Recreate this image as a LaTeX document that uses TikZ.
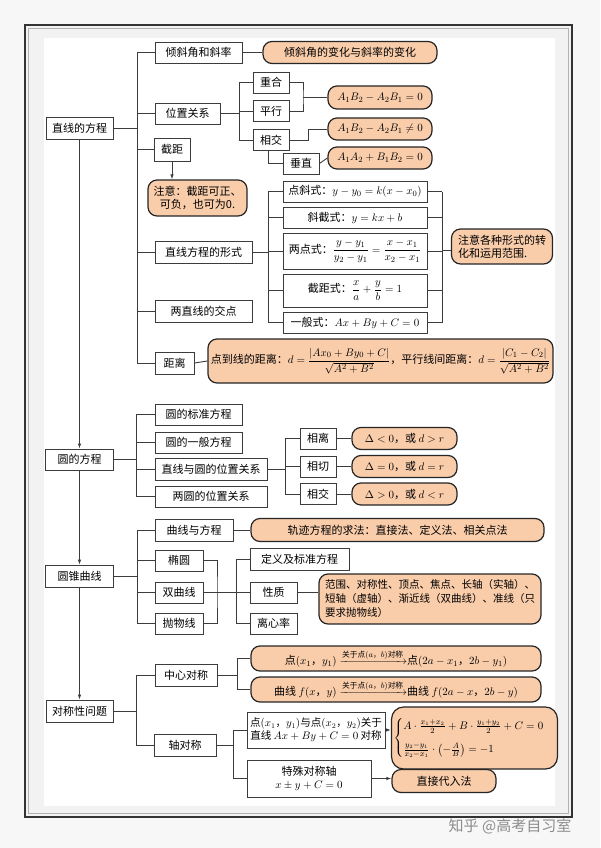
\documentclass[tikz,border=0pt]{standalone}
\usepackage{amsmath}
\usepackage[no-math]{fontspec}
\setmainfont{Noto Sans CJK SC}
\usetikzlibrary{arrows.meta}
\definecolor{peach}{RGB}{249,204,170}
\definecolor{edge}{RGB}{60,60,60}

\begin{document}
\begin{tikzpicture}[x=1pt,y=-1pt,>={Latex[length=5pt,width=3.5pt]},
    font=\fontsize{11}{13}\selectfont,line width=0.9pt]
  \tikzstyle{box}=[rectangle,draw=edge,line width=0.8pt,fill=white,inner sep=1pt,minimum height=21]
  \tikzstyle{note}=[rectangle,rounded corners=9pt,draw=black!85,line width=1.2pt,fill=peach,inner sep=2pt,minimum height=22]
  \tikzstyle{link}=[draw=edge,line width=0.9pt]
  \useasboundingbox (0,0) rectangle (600,848);

  % frame
  \fill[black!3] (0,0) rectangle (600,848);
  \fill[black!5] (25,25) rectangle (572,817);
  \fill[white] (44,38) rectangle (555,806);
  \draw[black!80,line width=2.5pt] (25,25) rectangle (572,817);
  \draw[black!30,line width=1pt] (28.5,28.5) rectangle (568.5,813.5);

  % lines
  \node (line) at (79.5,128) [box,minimum width=67,minimum height=22] {直线的方程};
  \node (tilt) at (198.5,52.5) [box,minimum width=87] {倾斜角和斜率};
  \node (pos) at (187.5,113.5) [box,minimum width=65] {位置关系};
  \node (icpt) at (172,149.5) [box,minimum width=36,minimum height=23] {截距};
  \node (form) at (203.5,252) [box,minimum width=97,minimum height=22] {直线方程的形式};
  \node (cross) at (203.5,311) [box,minimum width=97,minimum height=22] {两直线的交点};
  \node (dist) at (174.5,363) [box,minimum width=39,minimum height=22] {距离};
  \node (icptn) at (197.5,198) [note,minimum width=99,minimum height=36,align=center] {注意：截距可正、\\可负，也可为0.};
  \node (tiltn) at (350,52.5) [note,minimum width=174] {倾斜角的变化与斜率的变化};
  \node (same) at (271,82.5) [box,minimum width=36] {重合};
  \node (para) at (271,111) [box,minimum width=36] {平行};
  \node (meet) at (271,140) [box,minimum width=36] {相交};
  \node (perp) at (301,163.5) [box,minimum width=36] {垂直};
  \node (paran) at (380,97.5) [note,minimum width=104,minimum height=23] {$A_1B_2-A_2B_1=0$};
  \node (meetn) at (380,129) [note,minimum width=104] {$A_1B_2-A_2B_1\neq0$};
  \node (perpn) at (380,158) [note,minimum width=104] {$A_1A_2+B_1B_2=0$};
  \node (fa) at (355,191.5) [box,minimum width=144] {点斜式：$y-y_0=k(x-x_0)$};
  \node (fb) at (355,217.5) [box,minimum width=144] {斜截式：$y=kx+b$};
  \node (fc) at (355,251) [box,minimum width=144,minimum height=36] {两点式：$\dfrac{y-y_1}{y_2-y_1}=\dfrac{x-x_1}{x_2-x_1}$};
  \node (fd) at (355,290.5) [box,minimum width=144,minimum height=33] {截距式：$\dfrac{x}{a}+\dfrac{y}{b}=1$};
  \node (fe) at (355,322.5) [box,minimum width=144] {一般式：$Ax+By+C=0$};
  \node (formn) at (502,246.5) [note,minimum width=101,minimum height=35,align=left] {注意各种形式的转\\化和运用范围.};
  \node (distn) at (380.5,361) [note,minimum width=345,minimum height=44] {点到线的距离：$d=\dfrac{|Ax_0+By_0+C|}{\sqrt{A^2+B^2}}$，平行线间距离：$d=\dfrac{|C_1-C_2|}{\sqrt{A^2+B^2}}$};

  \coordinate (t1) at (137,128);
  \draw [link] (line.east) -- (t1);
  \draw [link] (t1 |- tilt) -- (t1 |- dist);
  \foreach \n in {tilt,pos,icpt,form,cross,dist}
    \draw [link] (t1 |- \n) -- (\n.west);
  \draw [link] (tilt.east) -- (tiltn.west);
  \draw [link,->] (icpt.south) -- (icpt.south |- icptn.north);
  \draw [link] (dist.east) -- (distn.west);

  \coordinate (t2) at (239,113.5);
  \draw [link] (pos.east) -- (t2);
  \draw [link] (t2 |- same) -- (t2 |- meet);
  \foreach \n in {same,para,meet}
    \draw [link] (t2 |- \n) -- (\n.west);
  \coordinate (b1) at (303,97.5);
  \draw [link] (same.east) -| (b1) |- (para.east);
  \draw [link] (b1) -- (paran.west);
  \draw [link] (meet.east) -- ++(19,0) |- (meetn.west);
  \draw [link] ([xshift=-3]meet.south) |- (perp.west);
  \draw [link] (perp.east) -- (perpn.west);

  \coordinate (t3) at (268,252);
  \coordinate (t4) at (442,250);
  \draw [link] (form.east) -- (t3);
  \draw [link] (t3 |- fa) -- (t3 |- fe);
  \draw [link] (t4 |- fa) -- (t4 |- fe);
  \foreach \n in {fa,fb,fc,fd,fe} {
    \draw [link] (t3 |- \n) -- (\n.west);
    \draw [link] (\n.east) -- (t4 |- \n);
  }
  \draw [link] (t4) -- (t4 -| formn.west);

  % circles
  \node (circ) at (79.5,459.5) [box,minimum width=68] {圆的方程};
  \node (c1) at (198.5,414.5) [box,minimum width=87] {圆的标准方程};
  \node (c2) at (198.5,442.5) [box,minimum width=87] {圆的一般方程};
  \node (c3) at (211,469) [box,minimum width=112,minimum height=22] {直线与圆的位置关系};
  \node (c4) at (211,496.5) [box,minimum width=112] {两圆的位置关系};
  \node (apart) at (318,438.5) [box,minimum width=36] {相离};
  \node (touch) at (318,466.5) [box,minimum width=36] {相切};
  \node (cut) at (318,494) [box,minimum width=36] {相交};
  \node (apartn) at (404.5,438.5) [note,minimum width=105] {$\Delta<0$，或 $d>r$};
  \node (touchn) at (404.5,466.5) [note,minimum width=105] {$\Delta=0$，或 $d=r$};
  \node (cutn) at (404.5,494) [note,minimum width=105] {$\Delta>0$，或 $d<r$};

  \coordinate (t5) at (136,459.5);
  \draw [link] (circ.east) -- (t5);
  \draw [link] (t5 |- c1) -- (t5 |- c4);
  \foreach \n in {c1,c2,c3,c4}
    \draw [link] (t5 |- \n) -- (\n.west);
  \coordinate (t6) at (285,469);
  \draw [link] (c3.east) -- (t6);
  \draw [link] (t6 |- apart) -- (t6 |- cut);
  \foreach \n in {apart,touch,cut} {
    \draw [link] (t6 |- \n) -- (\n.west);
    \draw [link] (\n.east) -- (\n n.west);
  }

  % conics
  \node (conic) at (79.5,576) [box,minimum width=68,minimum height=22] {圆锥曲线};
  \node (k1) at (194,530) [box,minimum width=78,minimum height=22] {曲线与方程};
  \node (ellip) at (179,560.5) [box,minimum width=48] {椭圆};
  \node (hyper) at (179,592.5) [box,minimum width=48] {双曲线};
  \node (parab) at (179,623.5) [box,minimum width=48] {抛物线};
  \node (k1n) at (397.5,530) [note,minimum width=293,minimum height=23] {轨迹方程的求法：直接法、定义法、相关点法};
  \node (defn) at (299.5,559) [box,minimum width=99,minimum height=22] {定义及标准方程};
  \node (prop) at (273.5,592.5) [box,minimum width=47] {性质};
  \node (ecc) at (273.5,623.5) [box,minimum width=47] {离心率};
  \node (propn) at (430,599) [note,minimum width=222,minimum height=50,align=left,inner sep=1pt,
    font=\fontsize{10.5}{14}\selectfont] {范围、对称性、顶点、焦点、长轴（实轴）、\\短轴（虚轴）、渐近线（双曲线）、准线（只\\要求抛物线）};

  \coordinate (t7) at (137,576);
  \draw [link] (conic.east) -- (t7);
  \draw [link] (t7 |- k1) -- (t7 |- parab);
  \foreach \n in {k1,ellip,hyper,parab}
    \draw [link] (t7 |- \n) -- (\n.west);
  \draw [link] (k1.east) -- (k1n.west);
  \coordinate (b2) at (217,592.5);
  \draw [link] (ellip.east) -| (b2) |- (parab.east);
  \coordinate (t8) at (236,592.5);
  \draw [link] (hyper.east) -- (t8);
  \draw [link] (t8 |- defn) -- (t8 |- ecc);
  \foreach \n in {defn,prop,ecc}
    \draw [link] (t8 |- \n) -- (\n.west);
  \draw [link] (prop.east) -- (prop.east -| propn.west);

  % symmetry
  \node (sym) at (79.5,711) [box,minimum width=67,minimum height=22] {对称性问题};
  \node (cen) at (186,675) [box,minimum width=62,minimum height=22] {中心对称};
  \node (axis) at (185,745) [box,minimum width=62,minimum height=22] {轴对称};
  \node (cenp) at (396,658.5) [note,minimum width=290,minimum height=25] {点$(x_1$，$y_1)\xrightarrow{\text{关于点}(a\text{，}b)\text{对称}}$点$(2a-x_1$，$2b-y_1)$};
  \node (cenc) at (396,689.5) [note,minimum width=290,minimum height=25] {曲线 $f(x$，$y)\xrightarrow{\text{关于点}(a\text{，}b)\text{对称}}$曲线 $f(2a-x$，$2b-y)$};
  \node (ax1) at (316,730) [box,minimum width=138,minimum height=36,align=center,
    font=\fontsize{10.5}{13}\selectfont] {点$(x_1$，$y_1)$与点$(x_2$，$y_2)$关于\\直线 $Ax+By+C=0$ 对称};
  \node (ax2) at (309,778.5) [box,minimum width=124,minimum height=37,align=center] {特殊对称轴\\$x\pm y+C=0$};
  \node (ax1n) at (474.5,738) [note,minimum width=149,minimum height=62,rounded corners=12pt] {$\begin{cases} A\cdot\frac{x_1+x_2}{2}+B\cdot\frac{y_1+y_2}{2}+C=0\\[8pt] \frac{y_2-y_1}{x_2-x_1}\cdot\left(-\frac{A}{B}\right)=-1\end{cases}$};
  \node (ax2n) at (444,781) [note,minimum width=104,minimum height=23] {直接代入法};

  \coordinate (t9) at (136,711);
  \draw [link] (sym.east) -- (t9);
  \draw [link] (t9 |- cen) -- (t9 |- axis);
  \foreach \n in {cen,axis}
    \draw [link] (t9 |- \n) -- (\n.west);
  \coordinate (t10) at (237,675);
  \draw [link] (cen.east) -- (t10);
  \draw [link] (t10 |- cenp) -- (t10 |- cenc);
  \foreach \n in {cenp,cenc}
    \draw [link] (t10 |- \n) -- (\n.west);
  \coordinate (t11) at (233,745);
  \draw [link] (axis.east) -- (t11);
  \draw [link] (t11 |- ax1) -- (t11 |- ax2);
  \foreach \n in {ax1,ax2}
    \draw [link] (t11 |- \n) -- (\n.west);
  \draw [link,->] (ax1.east) -- (ax1.east -| ax1n.west);
  \draw [link,->] (ax2.east) -- (ax2.east -| ax2n.west);

  % main chain
  \draw [link,->] (line.south) -- (circ.north);
  \draw [link,->] (circ.south) -- (conic.north);
  \draw [link,->] (conic.south) -- (sym.north);

  \node (mark) at (510,826) [text=black!45,font=\fontsize{15}{15}\selectfont] {知乎 @高考自习室};
\end{tikzpicture}
\end{document}
